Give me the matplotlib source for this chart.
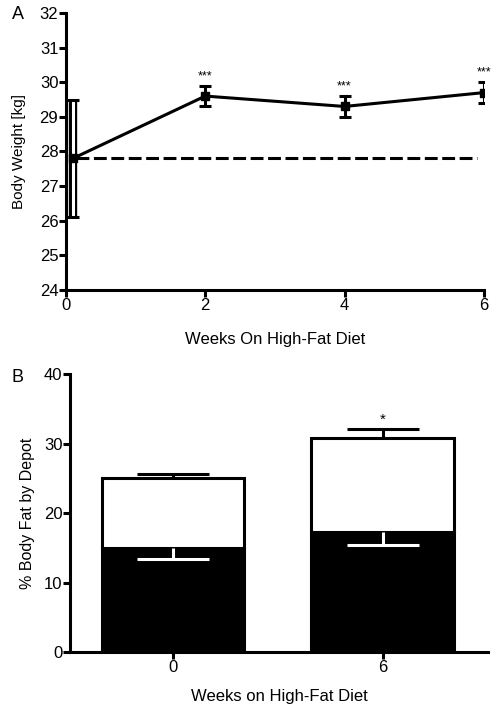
import numpy as np
import matplotlib
matplotlib.use('Agg')
import matplotlib.pyplot as plt

plt.rcParams['font.family'] = ['Liberation Sans', 'DejaVu Sans']

# panel A: body weight over time
weeks = [0.1, 2, 4, 6]
weight = [27.8, 29.6, 29.3, 29.7]
weight_err = [1.7, 0.3, 0.3, 0.3]
baseline = 27.8
baseline_weeks = [0.15, 5.9]
sig_a = ['', '***', '***', '***']

# panel B: body fat by depot
fat_groups = ['0', '6']
fat_lower = [15.0, 17.2]
fat_lower_err = [1.6, 1.85]
fat_total = [25.0, 30.8]
fat_total_err = [0.55, 1.3]
sig_b = ['', '*']

lw = 2.2
fig = plt.figure(figsize=(4.98, 7.09), dpi=100)

# ---- A ----
ax = fig.add_axes([0.1325, 0.591, 0.839, 0.3907])
ax.plot(baseline_weeks, [baseline, baseline], color='k', lw=lw, ls=(0, (4.2, 1.5)))
# hollow-looking error bar at week 0
ax.errorbar(weeks[:1], weight[:1], yerr=weight_err[:1], fmt='none', ecolor='k',
            elinewidth=6, capsize=0, zorder=3)
ax.errorbar(weeks[:1], weight[:1], yerr=weight_err[:1], fmt='none', ecolor='w',
            elinewidth=2.2, capsize=0, zorder=3.5)
ax.errorbar(weeks[:1], weight[:1], yerr=weight_err[:1], fmt='none', ecolor='k',
            elinewidth=0, capsize=4.5, capthick=lw, zorder=3.6)
ax.errorbar(weeks[1:], weight[1:], yerr=weight_err[1:], fmt='none',
            ecolor='k', elinewidth=lw, capsize=4.5, capthick=lw, zorder=4)
ax.plot(weeks, weight, color='k', lw=lw, marker='s', ms=6, zorder=4.5)
for x, y, e, s in zip(weeks, weight, weight_err, sig_a):
    if s:
        ax.text(x, y + e + 0.1, s, ha='center', va='bottom', fontsize=9,
                clip_on=False)
ax.set_xlim(0, 6)
ax.set_ylim(24, 32)
ax.set_xticks([0, 2, 4, 6])
ax.set_yticks(np.arange(24, 33, 1))
ax.set_xlabel('Weeks On High-Fat Diet', fontsize=12, labelpad=14)
ax.set_ylabel('Body Weight [kg]', fontsize=11, labelpad=10)
for sp in ['top', 'right']:
    ax.spines[sp].set_visible(False)
for sp in ['left', 'bottom']:
    ax.spines[sp].set_linewidth(lw)
ax.tick_params(width=lw, length=5, labelsize=12, pad=0.5)
fig.text(0.024, 0.98, 'A', fontsize=13, va='center')

# ---- B ----
bx = fig.add_axes([0.1406, 0.0804, 0.839, 0.392])
pos = np.arange(len(fat_groups))
bw = 0.68
cap = 0.17
upper = [t - l for t, l in zip(fat_total, fat_lower)]
bx.bar(pos, fat_lower, width=bw, color='k', edgecolor='k', lw=lw, zorder=2)
bx.bar(pos, upper, bottom=fat_lower, width=bw, color='w', edgecolor='k', lw=lw, zorder=2)
bx.errorbar(pos, fat_total, yerr=[[0, 0], fat_total_err], fmt='none', ecolor='k',
            elinewidth=lw, capsize=0, zorder=1.5)
tops = [t + e for t, e in zip(fat_total, fat_total_err)]
bx.hlines(tops, pos - cap, pos + cap, color='k', lw=lw, zorder=1.5)
lows = [l - e for l, e in zip(fat_lower, fat_lower_err)]
bx.vlines(pos, lows, fat_lower, color='w', lw=lw, zorder=3)
bx.hlines(lows, pos - cap, pos + cap, color='w', lw=lw, zorder=3)
for x, y, e, s in zip(pos, fat_total, fat_total_err, sig_b):
    if s:
        bx.text(x, y + e + 0.3, s, ha='center', va='bottom', fontsize=11)
bx.set_xlim(-0.49, 1.5)
bx.set_ylim(0, 40)
bx.set_xticks(pos)
bx.set_xticklabels(fat_groups)
bx.set_yticks(np.arange(0, 41, 10))
bx.set_xlabel('Weeks on High-Fat Diet', fontsize=12, labelpad=10)
bx.set_ylabel('% Body Fat by Depot', fontsize=11.5, labelpad=6)
for sp in ['top', 'right']:
    bx.spines[sp].set_visible(False)
for sp in ['left', 'bottom']:
    bx.spines[sp].set_linewidth(lw)
bx.tick_params(width=lw, length=5, labelsize=12, pad=0.5)
fig.text(0.024, 0.467, 'B', fontsize=13, va='center')

fig.savefig('out.png', dpi=100)
